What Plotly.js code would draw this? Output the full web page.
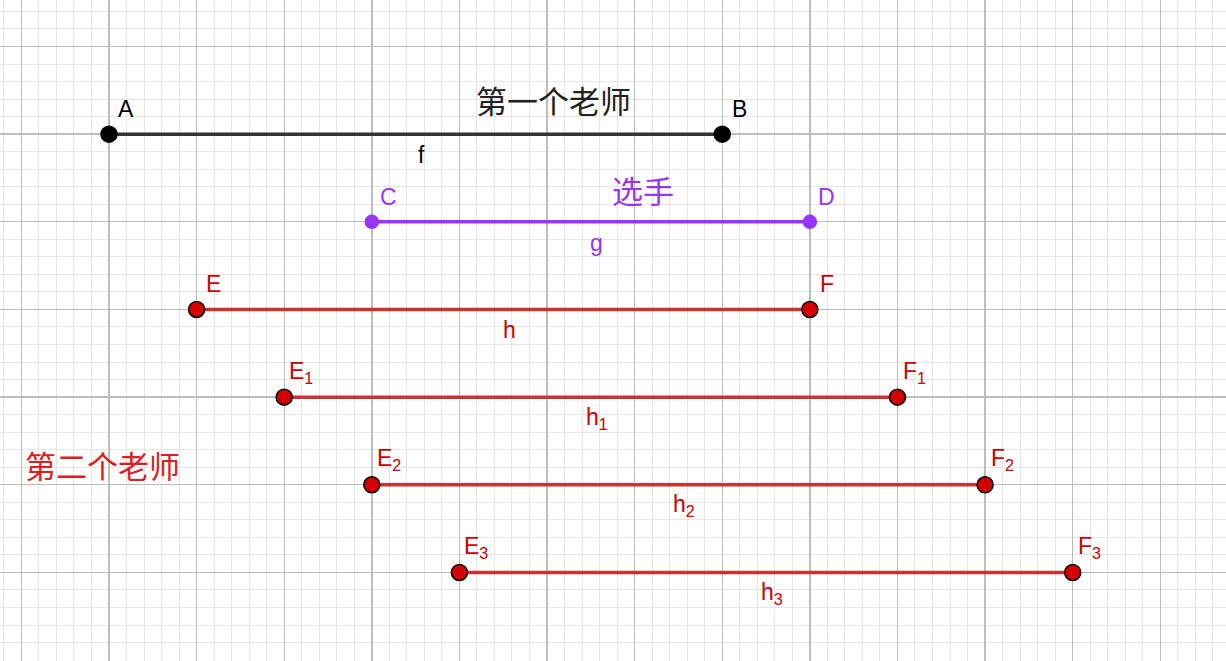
<!DOCTYPE html>
<html>
<head>
<meta charset="utf-8">
<script src="https://cdn.plot.ly/plotly-3.0.1.min.js"></script>
<style>html,body{margin:0;padding:0;background:#fff}</style>
</head>
<body>
<div id="chart" style="width:1226px;height:661px"></div>
<script>
// segments: name, start label, end label, x0, x1, y, style group
const seg_names = ["f", "g", "h", "h<sub>1</sub>", "h<sub>2</sub>", "h<sub>3</sub>"];
const start_labels = ["A", "C", "E", "E<sub>1</sub>", "E<sub>2</sub>", "E<sub>3</sub>"];
const end_labels = ["B", "D", "F", "F<sub>1</sub>", "F<sub>2</sub>", "F<sub>3</sub>"];
const x_start = [1, 4, 2, 3, 4, 5];
const x_end = [8, 9, 9, 10, 11, 12];
const y_level = [6, 5, 4, 3, 2, 1];
const groups = ["black", "purple", "red", "red", "red", "red"];

const texts = ["第一个老师", "选手", "第二个老师"];
const text_x = [6.07, 7.1, 0.93];
const text_y = [6.39, 5.37, 2.23];
const text_col = ["#222222", "#9933ff", "#e02020"];

const styles = {
    black: {line: "#333333", fill: "#000000", outline: "#000000", size: 16, text: "#000000"},
    purple: {line: "#9933ff", fill: "#9933ff", outline: "#9933ff", size: 13, text: "#9933ff"},
    red: {line: "#d03030", fill: "#d40000", outline: "#000000", size: 16, text: "#cc0000"}
};

var traces = [];
var annotations = [];
for (let i = 0; i < seg_names.length; i++) {
    let s = styles[groups[i]];
    traces.push({
        x: [x_start[i], x_end[i]],
        y: [y_level[i], y_level[i]],
        mode: "lines+markers",
        type: "scatter",
        line: {color: s.line, width: 3.5},
        marker: {color: s.fill, size: s.size, line: {color: s.outline, width: 1.5}},
        hoverinfo: "skip"
    });
    annotations.push({x: x_start[i], y: y_level[i], text: start_labels[i], showarrow: false,
        xshift: 17, yshift: 25, font: {family: "Arial, Liberation Sans", size: 23, color: s.text}});
    annotations.push({x: x_end[i], y: y_level[i], text: end_labels[i], showarrow: false,
        xshift: 17, yshift: 25, font: {family: "Arial, Liberation Sans", size: 23, color: s.text}});
    annotations.push({x: (x_start[i] + x_end[i]) / 2, y: y_level[i], text: seg_names[i], showarrow: false,
        xshift: 6, yshift: -21, font: {family: "Arial, Liberation Sans", size: 23, color: s.text}});
}
for (let i = 0; i < texts.length; i++) {
    annotations.push({x: text_x[i], y: text_y[i], text: texts[i], showarrow: false,
        font: {family: "Noto Sans CJK SC", size: 31, color: text_col[i]}});
}

var layout = {
    width: 1226, height: 661,
    margin: {l: 0, r: 0, t: 0, b: 0},
    showlegend: false,
    paper_bgcolor: "#ffffff", plot_bgcolor: "#ffffff",
    xaxis: {range: [-0.244, 13.75], dtick: 1, tick0: 0, showticklabels: false, zeroline: false,
        gridcolor: "#bdbdbd", gridwidth: 1.4,
        minor: {dtick: 0.2, showgrid: true, gridcolor: "#e6e6e6", gridwidth: 1}},
    yaxis: {range: [-0.01, 7.53], dtick: 1, tick0: 0, showticklabels: false, zeroline: false,
        gridcolor: "#bdbdbd", gridwidth: 1.4,
        minor: {dtick: 0.2, showgrid: true, gridcolor: "#e6e6e6", gridwidth: 1}},
    annotations: annotations
};

Plotly.newPlot("chart", traces, layout, {staticPlot: true, responsive: false});
</script>
</body>
</html>
